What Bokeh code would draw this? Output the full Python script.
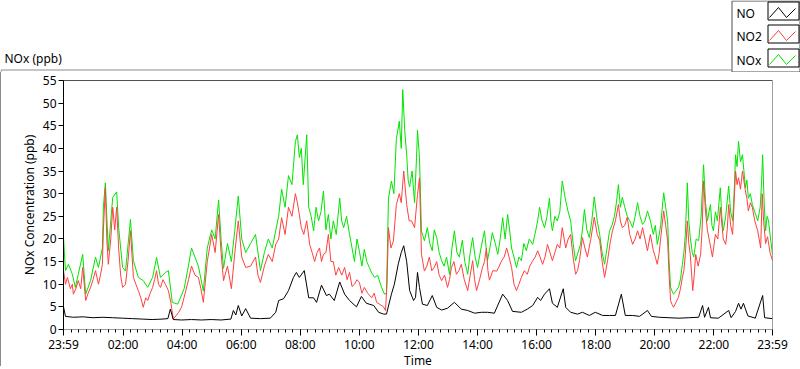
from bokeh.plotting import figure
from bokeh.models import FixedTicker, Range1d, Span, Spacer
from bokeh.layouts import column, row
from bokeh.core.properties import value
from bokeh.embed import file_html
from bokeh.resources import INLINE

# ---------------- data (time = minutes after the 23:59 start) ----------------
nox_t = [0, 4, 10, 18, 24, 30, 39, 45, 55, 65, 71, 79, 81, 85, 91, 100, 108, 112, 120, 126,
         136, 142, 152, 162, 171, 181, 189, 197, 207, 213, 221, 232, 245, 252, 260, 267, 274, 284, 292, 301,
         308, 315, 320, 325, 333, 341, 348, 355, 362, 370, 380, 390, 400, 408, 416, 424, 431, 437, 443, 450,
         457, 464, 471, 475, 479, 483, 487, 494, 498, 503, 508, 513, 518, 523, 528, 533, 538, 543, 548, 554,
         561, 565, 569, 575, 581, 586, 591, 596, 601, 606, 611, 616, 621, 626, 632, 638, 646, 652, 656, 660,
         666, 671, 676, 682, 686, 689, 693, 697, 700, 703, 708, 713, 717, 719, 723, 727, 733, 739, 744, 749,
         753, 758, 763, 768, 773, 778, 784, 789, 794, 799, 804, 810, 815, 821, 826, 831, 836, 841, 848, 855,
         861, 866, 871, 877, 882, 887, 892, 897, 902, 906, 910, 915, 920, 925, 930, 935, 940, 946, 953, 959,
         963, 967, 972, 977, 982, 987, 990, 993, 998, 1003, 1008, 1013, 1020, 1025, 1030, 1035, 1040, 1045, 1050, 1054,
         1058, 1063, 1068, 1073, 1078, 1084, 1089, 1094, 1099, 1104, 1109, 1114, 1119, 1123, 1127, 1131, 1135, 1140, 1145, 1150,
         1156, 1161, 1166, 1171, 1176, 1181, 1186, 1192, 1198, 1202, 1206, 1210, 1213, 1219, 1223, 1227, 1230, 1233, 1236, 1239,
         1244, 1249, 1253, 1257, 1260, 1263, 1267, 1270, 1273, 1277, 1280, 1285, 1290, 1295, 1300, 1304, 1308, 1311, 1314, 1317,
         1320, 1324, 1328, 1334, 1337, 1340, 1345, 1351, 1355, 1359, 1362, 1365, 1368, 1371, 1375, 1379, 1385, 1388, 1391, 1395,
         1399, 1404, 1410, 1415, 1418, 1420, 1423, 1426, 1429, 1432, 1436, 1440]
nox = [20.3, 13, 14.4, 12.2, 9.3, 12.2, 16.6, 7.8, 10.8, 16, 13.7, 18, 27, 32.4, 17.4, 29.2, 30.4, 22.5, 13.7, 12.9,
       24.3, 15.2, 11.5, 10.8, 9.3, 11.5, 15.9, 11.5, 12.6, 13, 6, 5.6, 9, 13, 18, 16, 14, 8.5, 18, 22,
       20, 28.6, 20, 13.5, 19, 15, 22, 29.5, 20, 17, 19, 21, 13, 17, 20, 18, 21.8, 25, 31, 27,
       34, 32, 41.5, 43, 38, 40, 32, 43, 27, 25, 21.8, 27, 24, 26, 30.6, 22, 25.4, 20, 24, 21,
       29, 24, 22.5, 25, 21, 18, 15, 20, 17.3, 14, 17.7, 15, 13.7, 12.5, 11.5, 12, 9.3, 7.8, 8, 29,
       32.8, 30, 42, 46, 40, 53, 44, 38.6, 33, 31.5, 35, 28, 38, 44, 38, 21.8, 19.6, 22.5, 19, 17.4,
       22, 20.3, 17, 15.2, 14, 16, 12.2, 18, 21.8, 17, 16, 19.7, 15, 12.2, 17, 20.3, 16, 13.7, 18, 21.8,
       15.2, 18, 21.4, 19, 16.6, 20, 24.7, 20, 25.4, 22, 18, 16, 13.7, 16, 15.2, 19, 17.4, 20, 18.8, 21.8,
       24, 27, 24, 22.5, 25, 29, 24, 21.8, 25, 24, 26, 32.8, 28.4, 26, 24, 19, 15.2, 17, 18.8, 22,
       26.5, 22, 20.3, 24, 29.3, 24, 21, 17, 14.4, 18, 21.8, 23, 25, 28, 32, 27, 29.2, 27, 25, 24,
       22.5, 25, 28, 25, 23.2, 24, 26.2, 24, 21, 23, 18.8, 21, 23.2, 30.2, 27, 24, 15, 9.3, 8.5, 7.8,
       8.5, 9.3, 11, 14.4, 17, 21, 32.4, 24, 20.3, 17, 16, 20, 19.6, 25, 36.4, 28, 24, 26, 27.6, 23,
       21.8, 26, 24, 31.3, 25, 21.8, 25, 31.7, 26, 24, 30, 38.6, 36, 41.6, 37, 38.6, 31.3, 33, 29, 30,
       27.6, 26, 24, 27, 33, 38.6, 28, 21.8, 25, 24, 20, 16.6]

no2_t = [0, 4, 8, 14, 18, 20, 25, 30, 35, 39, 45, 50, 55, 60, 65, 71, 75, 79, 81, 85,
         88, 91, 96, 100, 104, 108, 112, 116, 120, 126, 131, 136, 142, 147, 152, 157, 162, 167, 171, 176,
         181, 185, 189, 193, 197, 202, 207, 213, 218, 223, 228, 234, 240, 247, 254, 260, 267, 274, 279, 284,
         292, 301, 308, 315, 320, 325, 333, 341, 348, 355, 362, 370, 380, 390, 395, 400, 408, 416, 424, 431,
         437, 443, 450, 457, 464, 471, 475, 479, 483, 488, 494, 500, 505, 510, 515, 520, 524, 528, 533, 538,
         543, 548, 553, 559, 565, 571, 576, 581, 586, 591, 596, 601, 606, 611, 618, 626, 631, 636, 643, 650,
         654, 657, 660, 665, 670, 676, 682, 686, 691, 697, 702, 707, 713, 719, 723, 727, 733, 738, 743, 748,
         753, 758, 763, 768, 774, 780, 784, 788, 793, 798, 803, 808, 814, 821, 826, 831, 835, 839, 845, 851,
         855, 859, 862, 865, 872, 880, 885, 890, 895, 900, 905, 910, 915, 920, 925, 930, 936, 942, 947, 953,
         958, 963, 968, 973, 978, 983, 988, 993, 998, 1003, 1008, 1013, 1020, 1025, 1030, 1035, 1040, 1044, 1048, 1054,
         1059, 1064, 1071, 1078, 1084, 1089, 1094, 1099, 1105, 1110, 1115, 1121, 1127, 1131, 1135, 1140, 1145, 1150, 1156, 1161,
         1166, 1171, 1176, 1181, 1186, 1192, 1198, 1202, 1206, 1210, 1213, 1219, 1223, 1227, 1230, 1233, 1236, 1239, 1244, 1249,
         1253, 1257, 1260, 1263, 1267, 1270, 1273, 1278, 1281, 1284, 1289, 1294, 1297, 1300, 1304, 1308, 1313, 1318, 1324, 1329,
         1334, 1340, 1345, 1348, 1351, 1355, 1359, 1362, 1365, 1368, 1371, 1375, 1379, 1385, 1388, 1391, 1395, 1399, 1404, 1410,
         1416, 1419, 1422, 1426, 1430, 1435, 1440]
no2 = [13, 10, 11.5, 9, 10, 7.8, 9, 10.8, 9, 13.7, 6.4, 8, 9.3, 11, 13, 10, 12, 14.4, 22, 31.3,
       20, 14.4, 20, 27, 22, 27, 18, 12, 9.3, 10, 15, 21.8, 11.5, 10, 8.6, 7, 4.9, 7, 6.4, 8,
       9.3, 11, 13, 10, 9.3, 11, 10, 8.6, 6, 2.3, 3, 3.8, 5, 8, 11, 14, 12, 11.5, 9, 6,
       15, 21, 17, 25.4, 17, 10.8, 14, 9, 17, 24, 16, 13.7, 14, 16, 12, 10.4, 14, 16.6, 15, 18.8,
       20, 24.7, 21, 27, 25, 30, 28, 25.4, 22.5, 21, 24, 18.8, 17, 15, 17, 18, 15, 16.6, 17, 21,
       15, 15, 12, 13.7, 12, 13.7, 11, 12.6, 9.5, 10, 11, 10.4, 8, 9.3, 8, 7, 8, 6, 5.5, 5,
       4.2, 10, 22.5, 18, 19.5, 27.6, 30, 28, 35, 27.6, 24, 24, 22.5, 29.8, 33.5, 16.6, 12.9, 14, 16, 13,
       13.7, 15, 12, 10.8, 12, 9.3, 11, 13.7, 15, 12.2, 13, 14.4, 11, 8.6, 12, 15.2, 11, 8.6, 11, 13.7,
       15, 18, 13, 10.9, 13, 12.9, 14, 15.2, 16, 18, 16, 13.7, 10, 8.6, 10, 11.5, 13, 12.2, 14, 15.2,
       16, 17.4, 16, 14.4, 16, 18.8, 17, 15.2, 17, 18.8, 18, 22.5, 18, 20, 21, 16, 12.2, 13, 15.2, 20.3,
       18, 16, 20, 24.8, 21, 19.7, 15, 11.5, 15.2, 19, 21.8, 24, 27.6, 24, 22.5, 23, 24.8, 21, 18.8, 20,
       21.8, 20, 22.5, 20, 17.4, 21, 17.4, 16, 14.4, 17, 20.3, 26.2, 23, 19.6, 12, 6.4, 5.5, 4.9, 6, 7.1,
       9, 11.5, 13, 16.6, 24, 19, 16.6, 8.6, 12, 16.6, 14, 16.6, 22, 32.8, 26, 21.8, 19, 16, 21, 20,
       27, 20, 18.8, 22, 27.6, 23, 21, 28, 35, 32, 33.5, 31, 35, 30.6, 29, 26.2, 28, 27, 24, 21.8,
       18, 30, 24, 19, 20.5, 17, 15.2]

no_t = [0, 4, 20, 40, 60, 80, 100, 120, 140, 160, 180, 200, 212, 217, 223, 240, 260, 280, 300, 320,
        340, 345, 350, 355, 362, 370, 380, 400, 420, 431, 437, 447, 457, 467, 473, 479, 489, 498, 508, 514,
        524, 534, 540, 550, 561, 571, 581, 595, 605, 615, 630, 640, 650, 656, 666, 672, 680, 686, 691, 697,
        703, 711, 715, 719, 723, 729, 739, 749, 758, 768, 780, 794, 808, 821, 835, 849, 861, 875, 892, 902,
        912, 930, 942, 953, 963, 969, 977, 987, 993, 1003, 1015, 1020, 1030, 1044, 1054, 1068, 1080, 1095, 1109, 1121,
        1133, 1141, 1156, 1170, 1186, 1194, 1210, 1230, 1250, 1270, 1290, 1298, 1302, 1310, 1314, 1330, 1351, 1356, 1365, 1371,
        1376, 1381, 1390, 1405, 1420, 1424, 1440]
no = [5, 2.9, 2.7, 2.8, 2.6, 2.7, 2.6, 2.5, 2.4, 2.3, 2.2, 2.3, 2.4, 4.5, 2.2, 2.1, 2.2, 2.1, 2.2, 2.1,
      2.3, 4.2, 3.2, 5.3, 3, 4.6, 2.5, 2.4, 2.5, 3.8, 6.4, 6.8, 8.6, 11.5, 12.6, 11.5, 13, 7, 7, 6,
      9.8, 7.5, 7.8, 6.4, 10.5, 7.8, 6.4, 5, 7.3, 5.8, 5.3, 3.8, 3.4, 3.4, 7.8, 10, 14.5, 17, 18.5, 15,
      8.6, 6.4, 7.1, 12.6, 9.3, 5.6, 5.3, 7.5, 4.9, 4.3, 4.7, 6, 4.5, 4.2, 3.6, 3.8, 3.8, 3.6, 7.8, 6.4,
      4, 3.8, 4.5, 5.3, 7.1, 6.4, 7.8, 9, 5.8, 4.9, 9, 4.9, 3.8, 3.4, 3.8, 3.1, 3.8, 3.1, 3.1, 3.1,
      7.8, 3.1, 3.1, 2.9, 4.2, 2.9, 2.7, 2.6, 2.5, 2.6, 2.7, 5.3, 2.7, 4.9, 2.6, 2.5, 4.2, 2.6, 4, 5.8,
      4.5, 5.8, 3, 2.5, 7.5, 2.6, 2.4]

series_names = ["NO", "NO2", "NOx"]
series_colors = ["#000000", "#ff4040", "#00e400"]
x_tick_labels = ["23:59", "02:00", "04:00", "06:00", "08:00", "10:00", "12:00",
                 "14:00", "16:00", "18:00", "20:00", "22:00", "23:59"]
y_ticks = [0, 5, 10, 15, 20, 25, 30, 35, 40, 45, 50, 55]

# ---------------- layout constants ----------------
FONT = "Noto Sans"
FS = "12px"
TOTAL_W = 800
TOP_H = 72
FL, FT, FW, FH, FB, FR = 62, 8, 709, 249, 37, 28
XMAX, YMAX = 1440, 55


def tick_pos(i, lab):
    if i == 0:
        return 0
    if i == len(x_tick_labels) - 1:
        return XMAX
    h, m = lab.split(":")
    return int(h) * 60 + int(m) + 1


x_ticks = [tick_pos(i, lab) for i, lab in enumerate(x_tick_labels)]
minor = [1 + 15 * k for k in range(96)]

# ---------------- header strip: caption + legend ----------------
top = figure(width=TOTAL_W, height=TOP_H, x_range=Range1d(0, TOTAL_W), y_range=Range1d(TOP_H, 0),
             min_border=0, x_axis_location=None, y_axis_location=None,
             output_backend="svg", toolbar_location=None, tools="",
             background_fill_color="white", border_fill_color="white", outline_line_color=None)
top.xgrid.visible = False
top.ygrid.visible = False
# outer panel top/left edge
top.line([0.5, 0.5, 731], [TOP_H, 69.5, 69.5], line_color="#8c8c8c", line_width=1)
# caption
top.text(x=[4], y=[58], text=["NOx (ppb)"], text_font=value(FONT), text_font_size=value(FS),
         text_color="black", text_baseline="middle", text_align="left")
# legend
top.quad(left=[731.5], right=[799.5], top=[0.5], bottom=[71.5],
         fill_color="white", line_color="#505050", line_width=1)
centers = [13, 36, 60]
top.text(x=[736] * 3, y=centers, text=series_names, text_font=value(FONT), text_font_size=value(FS),
         text_color="black", text_baseline="middle", text_align="left")
for col, cy in zip(series_colors, centers):
    top.quad(left=[767.5], right=[798.5], top=[cy - 11.5], bottom=[cy + 6.5],
             fill_color="white", line_color="black", line_width=1)
    top.line([769, 778, 786, 795], [cy + 4, cy - 6, cy + 4, cy - 5], line_color=col, line_width=1)

# ---------------- main chart ----------------
p = figure(frame_width=FW, frame_height=FH,
           min_border_left=FL, min_border_right=FR, min_border_top=FT, min_border_bottom=FB,
           x_range=Range1d(0, XMAX), y_range=Range1d(0, YMAX),
           output_backend="svg", toolbar_location=None, tools="",
           background_fill_color="white", border_fill_color="white",
           outline_line_color="#a0a0a0")
p.xgrid.visible = False
p.ygrid.visible = False

p.line(nox_t, nox, line_color=series_colors[2], line_width=1)
p.line(no2_t, no2, line_color=series_colors[1], line_width=1)
p.line(no_t, no, line_color=series_colors[0], line_width=1)

p.add_layout(Span(location=YMAX, dimension="width", line_color="black", line_width=1))

xa = p.xaxis[0]
xa.ticker = FixedTicker(ticks=x_ticks, minor_ticks=minor)
xa.major_label_overrides = {t: lab for t, lab in zip(x_ticks, x_tick_labels)}
xa.axis_line_color = "#9a9a9a"
xa.major_tick_in = 0
xa.major_tick_out = 6
xa.minor_tick_in = 0
xa.minor_tick_out = 3
xa.major_tick_line_color = "black"
xa.minor_tick_line_color = "black"
xa.major_label_standoff = 0
xa.axis_label = "Time"
xa.axis_label_standoff = -4

ya = p.yaxis[0]
ya.ticker = FixedTicker(ticks=y_ticks)
ya.axis_line_color = "black"
ya.major_tick_in = 0
ya.major_tick_out = 5
ya.minor_tick_out = 0
ya.major_tick_line_color = "black"
ya.major_label_standoff = 2
ya.axis_label = "NOx Concentration (ppb)"
ya.axis_label_standoff = 2

for ax in (xa, ya):
    ax.major_label_text_font = FONT
    ax.major_label_text_font_size = FS
    ax.major_label_text_color = "black"
    ax.axis_label_text_font = FONT
    ax.axis_label_text_font_size = FS
    ax.axis_label_text_font_style = "normal"
    ax.axis_label_text_color = "black"

main_h = FT + FH + FB
left_edge = Spacer(width=1, height=main_h, styles={"background-color": "#8c8c8c"})
bottom_edge = Spacer(width=TOTAL_W, height=1, styles={"background-color": "#303030"})

layout = column(top, row(left_edge, p, spacing=0), bottom_edge, spacing=0)

open("out.html", "w").write(file_html(layout, INLINE))
